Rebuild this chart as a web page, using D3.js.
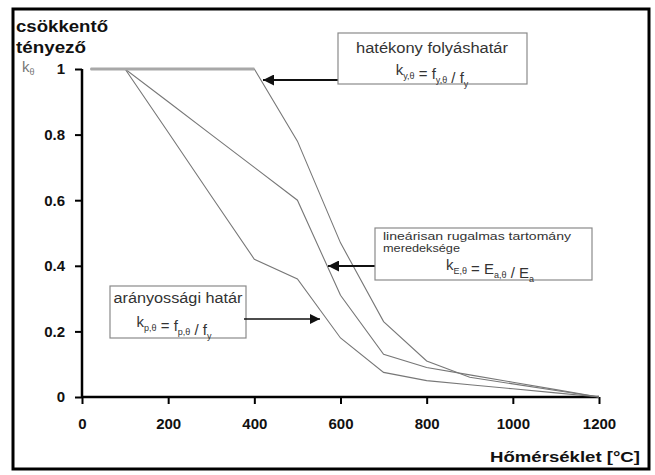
<!DOCTYPE html>
<html>
<head>
<meta charset="utf-8">
<script src="https://cdn.jsdelivr.net/npm/d3@7"></script>
<style>
  body { margin: 0; background: #fff; }
  text { font-family: "Liberation Sans", Arial, sans-serif; }
</style>
</head>
<body>
<script>
// reduction factors vs temperature
const temps = [20, 100, 200, 300, 400, 500, 600, 700, 800, 900, 1000, 1100, 1200];
const kY = [1, 1, 1, 1, 1, 0.78, 0.47, 0.23, 0.11, 0.06, 0.04, 0.02, 0];
const kP = [1, 1, 0.807, 0.613, 0.42, 0.36, 0.18, 0.075, 0.05, 0.0375, 0.025, 0.0125, 0];
const kE = [1, 1, 0.9, 0.8, 0.7, 0.6, 0.31, 0.13, 0.09, 0.0675, 0.045, 0.0225, 0];
const xTicks = [0, 200, 400, 600, 800, 1000, 1200];
const yTicks = [0, 0.2, 0.4, 0.6, 0.8, 1];

let svg = d3.select("body")
            .append("svg")
              .attr("width", 655)
              .attr("height", 475)
              .style("background-color", "white");

// frame
svg.append("rect")
    .attr("x", 13).attr("y", 9)
    .attr("width", 636).attr("height", 460)
    .attr("fill", "none")
    .attr("stroke", "black")
    .attr("stroke-width", 3);

let x = d3.scaleLinear().domain([0, 1200]).range([82, 599]);
let y = d3.scaleLinear().domain([0, 1]).range([397, 69]);

// axes
let xAxis = d3.axisBottom(x).tickValues(xTicks).tickSize(7).tickPadding(14)
              .tickFormat(d => String(d));
let yAxis = d3.axisLeft(y).tickValues(yTicks).tickSize(7).tickPadding(10)
              .tickFormat(d => d == 0 || d == 1 ? d : d3.format(".1f")(d));

let gx = svg.append("g").attr("transform", "translate(0,397)").call(xAxis);
let gy = svg.append("g").attr("transform", "translate(82,0)").call(yAxis);
[gx, gy].forEach(g => {
  g.select(".domain").attr("stroke", "black").attr("stroke-width", 2.5);
  g.selectAll(".tick line").attr("stroke", "black").attr("stroke-width", 2);
  g.selectAll(".tick text")
    .attr("fill", "#111")
    .style("font-size", "15px")
    .style("font-weight", "bold")
    .style("font-family", "Liberation Sans, Arial, sans-serif");
});
gx.select(".domain").attr("d", "M82,0H599");
gy.select(".domain").attr("d", "M0,69V397");

// series
let line = d3.line().x((d, i) => x(temps[i])).y(d => y(d));
[kY, kP, kE].forEach(s => {
  svg.append("path")
      .attr("d", line(s))
      .attr("fill", "none")
      .attr("stroke", "#777")
      .attr("stroke-width", 1.1);
});
// flat plateau of the yield factor, drawn heavier
let flat = kY.map((d, i) => [temps[i], d]).filter(p => p[1] == 1);
svg.append("path")
    .attr("d", d3.line().x(p => x(p[0])).y(p => y(p[1]))(flat))
    .attr("fill", "none")
    .attr("stroke", "#a8a8a8")
    .attr("stroke-width", 3);

// titles
svg.append("text").attr("x", 16).attr("y", 32)
    .style("font-size", "16px").style("font-weight", "bold").attr("fill", "#111")
    .attr("textLength", 92).attr("lengthAdjust", "spacingAndGlyphs")
    .text("csökkentő");
svg.append("text").attr("x", 16).attr("y", 53)
    .style("font-size", "16px").style("font-weight", "bold").attr("fill", "#111")
    .attr("textLength", 70).attr("lengthAdjust", "spacingAndGlyphs")
    .text("tényező");
let kt = svg.append("text").attr("x", 22).attr("y", 72)
    .style("font-size", "15px").attr("fill", "#777");
kt.append("tspan").text("k");
kt.append("tspan").attr("dy", 3).style("font-size", "9px").text("θ");

svg.append("text").attr("x", 640).attr("y", 462)
    .attr("text-anchor", "end")
    .style("font-size", "15px").style("font-weight", "bold").attr("fill", "#111")
    .attr("textLength", 150).attr("lengthAdjust", "spacingAndGlyphs")
    .text("Hőmérséklet [°C]");

// arrow markers
let defs = svg.append("defs");
defs.append("marker")
    .attr("id", "arr").attr("viewBox", "0 0 10 10")
    .attr("refX", 10).attr("refY", 5)
    .attr("markerWidth", 5).attr("markerHeight", 5)
    .attr("markerUnits", "strokeWidth")
    .attr("orient", "auto")
  .append("path").attr("d", "M0,0L10,5L0,10Z").attr("fill", "#111");
defs.append("marker")
    .attr("id", "arr2").attr("viewBox", "0 0 10 10")
    .attr("refX", 10).attr("refY", 5)
    .attr("markerWidth", 7).attr("markerHeight", 7)
    .attr("markerUnits", "strokeWidth")
    .attr("orient", "auto")
  .append("path").attr("d", "M0,0L10,5L0,10Z").attr("fill", "#111");

function box(x0, y0, w, h) {
  svg.append("rect")
      .attr("x", x0).attr("y", y0).attr("width", w).attr("height", h)
      .attr("fill", "white").attr("stroke", "#8a8a8a").attr("stroke-width", 1.2);
}
function arrow(x1, y1, x2, y2, sw, m) {
  svg.append("line")
      .attr("x1", x1).attr("y1", y1).attr("x2", x2).attr("y2", y2)
      .attr("stroke", "#111").attr("stroke-width", sw)
      .attr("marker-end", "url(#" + m + ")");
}
function formula(xc, yb, size, parts) {
  let t = svg.append("text").attr("x", xc).attr("y", yb)
      .attr("text-anchor", "middle")
      .style("font-size", size + "px").attr("fill", "#333");
  parts.forEach(p => {
    if (p.sub) {
      t.append("tspan").attr("dy", 4).style("font-size", (size * 0.6) + "px").text(p.sub);
      t.append("tspan").attr("dy", -4).text("");
    } else {
      t.append("tspan").text(p.t);
    }
  });
  return t;
}

// box 1: yield
arrow(338, 80, 263, 80, 2.2, "arr");
box(338, 33, 189, 51);
svg.append("text").attr("x", 432).attr("y", 53).attr("text-anchor", "middle")
    .style("font-size", "14px").attr("fill", "#333")
    .attr("textLength", 152).attr("lengthAdjust", "spacingAndGlyphs")
    .text("hatékony folyáshatár");
formula(432, 75, 15, [{t: "k"}, {sub: "y,θ"}, {t: " = f"}, {sub: "y,θ"}, {t: " / f"}, {sub: "y"}]);

// box 2: elastic modulus
arrow(375, 266, 328, 266, 2.2, "arr");
box(375, 228, 217, 52);
svg.append("text").attr("x", 383).attr("y", 240)
    .style("font-size", "11px").attr("fill", "#333")
    .attr("textLength", 188).attr("lengthAdjust", "spacingAndGlyphs")
    .text("lineárisan rugalmas tartomány");
svg.append("text").attr("x", 383).attr("y", 252)
    .style("font-size", "11px").attr("fill", "#333")
    .attr("textLength", 77).attr("lengthAdjust", "spacingAndGlyphs")
    .text("meredeksége");
formula(490, 270, 15, [{t: "k"}, {sub: "E,θ"}, {t: " = E"}, {sub: "a,θ"}, {t: " / E"}, {sub: "a"}]);

// box 3: proportional limit
box(110, 286, 136, 52);
arrow(244, 319, 320, 319, 1.5, "arr2");
svg.append("text").attr("x", 178).attr("y", 303).attr("text-anchor", "middle")
    .style("font-size", "14px").attr("fill", "#333")
    .attr("textLength", 129).attr("lengthAdjust", "spacingAndGlyphs")
    .text("arányossági határ");
formula(174, 327, 15, [{t: "k"}, {sub: "p,θ"}, {t: " = f"}, {sub: "p,θ"}, {t: " / f"}, {sub: "y"}]);
</script>
</body>
</html>
